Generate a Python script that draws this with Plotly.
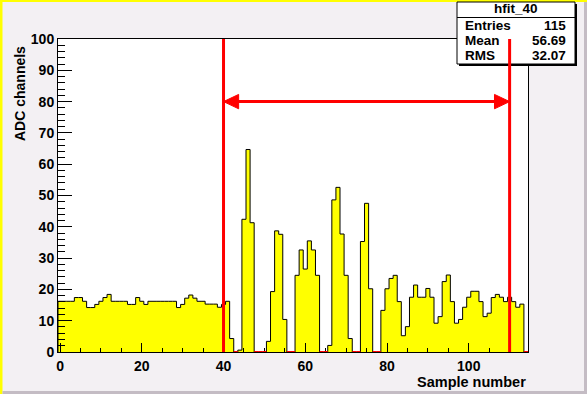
import plotly.graph_objects as go

# ---------------- data ----------------
sample = list(range(115))
adc = [
    16.2, 16.2, 16.2, 16.2, 17.4, 17.4, 16.2, 14.2, 14.2, 15.2,
    16.2, 17.4, 18.4, 16.2, 16.2, 16.2, 16.2, 15.2, 15.2, 17.4,
    16.2, 15.2, 16.2, 16.2, 16.2, 16.2, 16.2, 16.2, 16.2, 14.2,
    15.2, 17.2, 18.2, 17.2, 16.2, 16.2, 15.3, 15.3, 15.3, 14.3,
    15.2, 16.2, 4.3, 0, 0.6, 42.4, 64.7, 41.3, 0, 0,
    0, 3.4, 19.3, 38.7, 37.6, 10.4, 0, 0, 24.5, 32.6,
    26.5, 35.5, 32.6, 24.5, 0, 0, 2.1, 48.6, 52.6, 37.7,
    24.5, 4.3, 0, 0, 35.3, 47.5, 20.2, 0, 0, 13.3,
    20.2, 23.5, 24.5, 16.1, 5.2, 8.1, 17.5, 21.4, 17.5, 17.5,
    20.3, 17.5, 9.2, 11.3, 22.5, 24.6, 16.1, 9.2, 10.4, 14.3,
    17.5, 19.4, 19.4, 16.1, 11.3, 12.4, 17.4, 18.4, 17.5, 16.1,
    17.5, 16.1, 14.3, 15.3, 0,
]
window_lo = 40
window_hi = 110
arrow_level = 80
stats_title = "hfit_40"
stats_labels = ["Entries", "Mean", "RMS"]
stats_values = ["115", "56.69", "32.07"]
x_title = "Sample number"
y_title = "ADC channels"

# ---------------- layout geometry ----------------
CW, CH = 587, 394
L, R, T, B = 58, 59, 39, 42
PW, PH = CW - L - R, CH - T - B


def fx(px):
    return (px - L) / PW


def fy(py):
    return 1 - (py - T) / PH


FONT = "Liberation Sans, Arial, Helvetica, sans-serif"

# step outline built from the bins
xs = [sample[0] - 0.5] + [s - 0.5 for s in sample] + [sample[-1] + 0.5, sample[-1] + 0.5]
ys = [0] + adc + [adc[-1], 0]

fig = go.Figure()
fig.add_trace(go.Scatter(
    x=xs, y=ys, mode="lines", line=dict(shape="hv", color="black", width=1),
    fill="tozeroy", fillcolor="#ffff00", hoverinfo="skip", showlegend=False,
))

shapes = []
# red baseline on empty bins
for s, v in zip(sample, adc):
    if v == 0:
        shapes.append(dict(type="line", xref="x", yref="y", x0=s - 0.5, x1=s + 0.5,
                           y0=0, y1=0, line=dict(color="red", width=2), layer="above"))

# canvas bevel
shapes += [
    dict(type="rect", xref="paper", yref="paper", x0=fx(0), x1=fx(CW), y0=fy(0), y1=fy(2),
         fillcolor="#ffff00", line=dict(width=0), layer="above"),
    dict(type="rect", xref="paper", yref="paper", x0=fx(0), x1=fx(2.5), y0=fy(0), y1=fy(CH),
         fillcolor="#ffff00", line=dict(width=0), layer="above"),
    dict(type="rect", xref="paper", yref="paper", x0=fx(CW - 3), x1=fx(CW), y0=fy(2), y1=fy(CH),
         fillcolor="#c4bcc4", line=dict(width=0), layer="above"),
    dict(type="rect", xref="paper", yref="paper", x0=fx(2.5), x1=fx(CW), y0=fy(CH - 3), y1=fy(CH),
         fillcolor="#c4bcc4", line=dict(width=0), layer="above"),
]

# stats box
bx0, bx1, by0, by1 = 457, 575, 2, 64
shapes += [
    dict(type="rect", xref="paper", yref="paper", x0=fx(bx0 + 2), x1=fx(bx1 + 2),
         y0=fy(by0 + 2), y1=fy(by1 + 2), fillcolor="black", line=dict(width=0), layer="above"),
    dict(type="rect", xref="paper", yref="paper", x0=fx(bx0), x1=fx(bx1),
         y0=fy(by0), y1=fy(by1), fillcolor="white", line=dict(color="black", width=1), layer="above"),
    dict(type="line", xref="paper", yref="paper", x0=fx(bx0), x1=fx(bx1),
         y0=fy(17.5), y1=fy(17.5), line=dict(color="black", width=1), layer="above"),
]

# red window lines
for xv in (window_lo, window_hi):
    shapes.append(dict(type="line", xref="x", yref="y", x0=xv, x1=xv, y0=0, y1=100,
                       line=dict(color="red", width=3), layer="above"))

# double arrow
head_len = 3.7
head_half = 2.3
shapes.append(dict(type="line", xref="x", yref="y", x0=window_lo + 1, x1=window_hi - 1,
                   y0=arrow_level, y1=arrow_level, line=dict(color="red", width=3), layer="above"))
shapes.append(dict(type="path", xref="x", yref="y",
                   path=f"M {window_lo},{arrow_level} L {window_lo + head_len},{arrow_level + head_half} "
                        f"L {window_lo + head_len},{arrow_level - head_half} Z",
                   fillcolor="red", line=dict(color="red", width=1), layer="above"))
shapes.append(dict(type="path", xref="x", yref="y",
                   path=f"M {window_hi},{arrow_level} L {window_hi - head_len},{arrow_level + head_half} "
                        f"L {window_hi - head_len},{arrow_level - head_half} Z",
                   fillcolor="red", line=dict(color="red", width=1), layer="above"))

bold = dict(family=FONT, size=13.5, color="black", weight="bold")
annotations = [
    dict(text=stats_title, xref="paper", yref="paper", x=fx((bx0 + bx1) / 2), y=fy(8.5),
         xanchor="center", yanchor="middle", showarrow=False, font=bold),
]
for i, (lab, val) in enumerate(zip(stats_labels, stats_values)):
    yy = 25 + i * 15
    annotations.append(dict(text=lab, xref="paper", yref="paper", x=fx(463), y=fy(yy),
                            xanchor="left", yanchor="middle", showarrow=False, font=bold))
    annotations.append(dict(text=val, xref="paper", yref="paper", x=fx(568), y=fy(yy),
                            xanchor="right", yanchor="middle", showarrow=False, font=bold))

annotations.append(dict(text=x_title, xref="paper", yref="paper", x=fx(528), y=fy(381.5),
                        xanchor="right", yanchor="middle", showarrow=False,
                        font=dict(family=FONT, size=14.5, color="black", weight="bold")))
annotations.append(dict(text=y_title, xref="paper", yref="paper", x=fx(20), y=fy(94),
                        xanchor="center", yanchor="middle", textangle=-90, showarrow=False,
                        font=dict(family=FONT, size=14, color="black", weight="bold")))

tickfont = dict(family=FONT, size=14, color="black", weight="bold")
fig.update_layout(
    width=CW, height=CH,
    margin=dict(l=L, r=R, t=T, b=B, pad=0),
    paper_bgcolor="#f3f0f3", plot_bgcolor="white",
    shapes=shapes, annotations=annotations,
    xaxis=dict(range=[sample[0] - 0.5, sample[-1] + 0.5], showgrid=False, zeroline=False,
               showline=True, mirror=True, linecolor="black", linewidth=1,
               ticks="inside", ticklen=9, tickcolor="black", tick0=0, dtick=20,
               minor=dict(ticks="inside", ticklen=4.5, dtick=5, tick0=0, tickcolor="black"),
               tickfont=tickfont, ticklabelstandoff=1, fixedrange=True),
    yaxis=dict(range=[0, 100], showgrid=False, zeroline=False,
               showline=True, mirror=True, linecolor="black", linewidth=1,
               ticks="inside", ticklen=14, tickcolor="black", tick0=0, dtick=10,
               minor=dict(ticks="inside", ticklen=7, dtick=2, tick0=0, tickcolor="black"),
               tickfont=tickfont, fixedrange=True),
)

fig.write_html(
    "out.html",
    config={"displayModeBar": False},
    post_script="document.body.style.margin='0';document.body.style.overflow='hidden';",
)
